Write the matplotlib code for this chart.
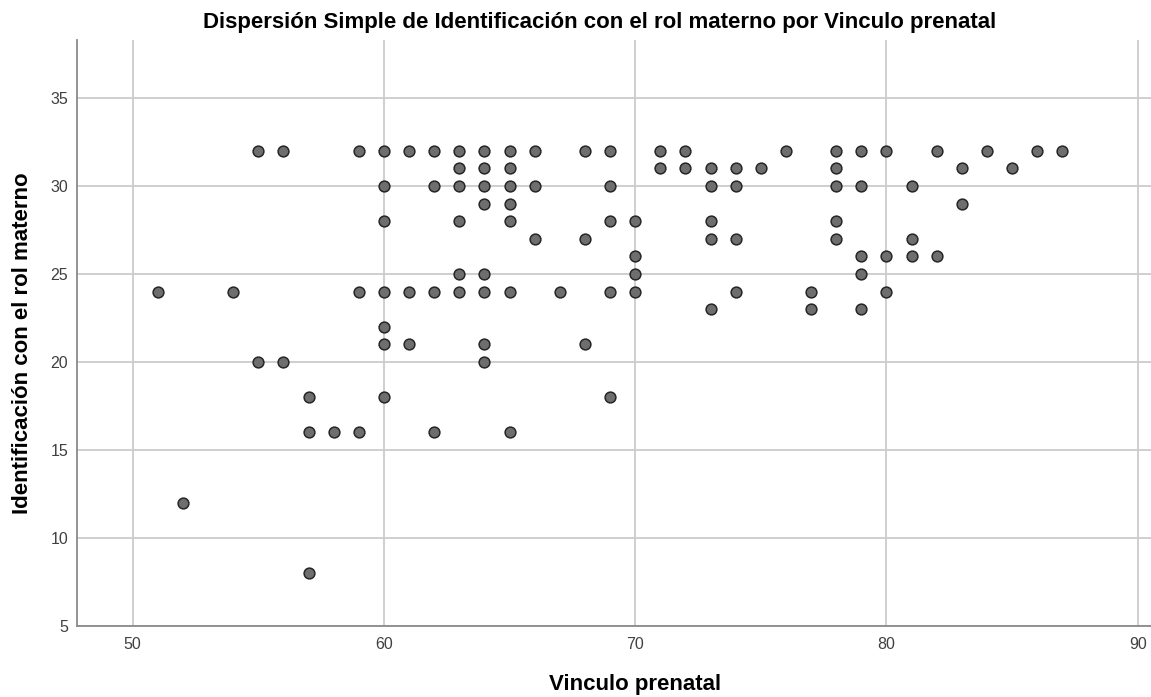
import matplotlib
matplotlib.use("Agg")
import matplotlib.pyplot as plt

# Vinculo prenatal (x) -> Identificación con el rol materno (y)
vinculo = [51, 52, 54, 55, 55, 56, 56, 57, 57, 57, 58,
           59, 59, 59,
           60, 60, 60, 60, 60, 60, 60,
           61, 61, 61,
           62, 62, 62, 62,
           63, 63, 63, 63, 63, 63,
           64, 64, 64, 64, 64, 64, 64, 64,
           65, 65, 65, 65, 65, 65, 65,
           66, 66, 66, 67, 68, 68, 68,
           69, 69, 69, 69, 69,
           70, 70, 70, 70,
           71, 71, 72, 72,
           73, 73, 73, 73, 73,
           74, 74, 74, 74, 75, 76, 77, 77,
           78, 78, 78, 78, 78,
           79, 79, 79, 79, 79,
           80, 80, 80, 81, 81, 81, 82, 82,
           83, 83, 84, 85, 86, 87]
identificacion = [24, 12, 24, 32, 20, 32, 20, 18, 16, 8, 16,
                  32, 24, 16,
                  32, 30, 28, 24, 22, 21, 18,
                  32, 24, 21,
                  32, 30, 24, 16,
                  32, 31, 30, 28, 25, 24,
                  32, 31, 30, 29, 25, 24, 21, 20,
                  32, 31, 30, 29, 28, 24, 16,
                  32, 30, 27, 24, 32, 27, 21,
                  32, 30, 28, 24, 18,
                  28, 26, 25, 24,
                  32, 31, 32, 31,
                  31, 30, 28, 27, 23,
                  31, 30, 27, 24, 31, 32, 24, 23,
                  32, 31, 30, 28, 27,
                  32, 30, 26, 25, 23,
                  32, 26, 24, 30, 27, 26, 32, 26,
                  31, 29, 32, 31, 32, 32]

x_ticks = [50, 60, 70, 80, 90]
y_ticks = [5, 10, 15, 20, 25, 30, 35]

plt.rcParams['font.family'] = ['Liberation Sans', 'DejaVu Sans']

fig = plt.figure(figsize=(11.51, 6.97), dpi=100)
ax = fig.add_axes([0.0666, 0.1023, 0.9334, 0.8403])

ax.scatter(vinculo, identificacion, s=60, c='#6e6e6e', edgecolors='#262626',
           linewidths=1.1, zorder=3)

ax.set_xlim(47.77, 90.53)
ax.set_ylim(5, 38.3)
ax.set_xticks(x_ticks)
ax.set_yticks(y_ticks)
ax.grid(True, color='#cccccc', linewidth=1.3, zorder=0)
ax.set_axisbelow(True)
ax.tick_params(length=0, labelsize=11.5, labelcolor='#404040')
ax.tick_params(axis='x', pad=8)
ax.tick_params(axis='y', pad=6)

for side in ['top', 'right']:
    ax.spines[side].set_visible(False)
for side in ['left', 'bottom']:
    ax.spines[side].set_color('#8a8a8a')
    ax.spines[side].set_linewidth(1.3)

ax.set_xlabel('Vinculo prenatal', fontsize=16, fontweight='bold')
ax.set_ylabel('Identificación con el rol materno', fontsize=16, fontweight='bold')
ax.xaxis.set_label_coords(0.5 + (635 - 614) / 1074, -0.082)
ax.yaxis.set_label_coords(-0.041, 0.482)

fig.text(0.521, 0.968, 'Dispersión Simple de Identificación con el rol materno por Vinculo prenatal',
         ha='center', va='center', fontsize=16, fontweight='bold')

fig.savefig('out.png', dpi=100)
